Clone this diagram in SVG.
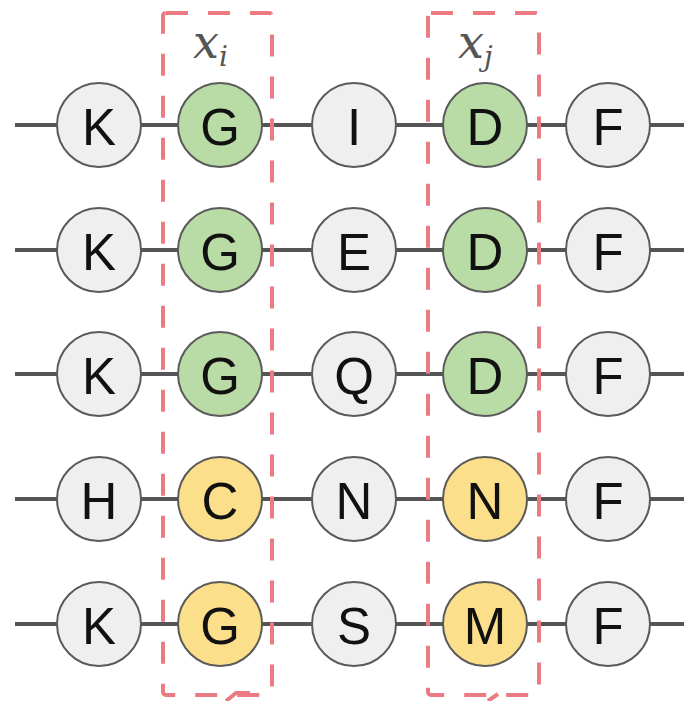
<svg xmlns="http://www.w3.org/2000/svg" width="684" height="701" viewBox="0 0 684 701">
  <style>
    .wire { stroke: #555; stroke-width: 4; fill: none; }
    .node circle { stroke: #5a5a5a; stroke-width: 2; }
    .plain circle { fill: #efefef; }
    .green circle { fill: #b9dba6; }
    .gold circle { fill: #fbdf8a; }
    .node text { font-family: "Liberation Sans", Arial, sans-serif; font-size: 51px; fill: #111; text-anchor: middle; dominant-baseline: central; }
    .box { fill: none; stroke: #ec7a82; stroke-width: 4; stroke-dasharray: 22 20; }
    .math { font-family: "DejaVu Serif", "Liberation Serif", serif; font-style: italic; fill: #555; }
  </style>
  <rect width="684" height="701" fill="#fff"/>

  <!-- chain backbones -->
  <g id="connectors">
    <line class="wire" x1="15" y1="125" x2="684" y2="125"/>
    <line class="wire" x1="15" y1="250" x2="684" y2="250"/>
    <line class="wire" x1="15" y1="374" x2="684" y2="374"/>
    <line class="wire" x1="15" y1="499" x2="684" y2="499"/>
    <line class="wire" x1="15" y1="624" x2="684" y2="624"/>
  </g>

  <!-- row 1 -->
  <g id="r1c1" class="node plain"><circle cx="99" cy="125" r="42"/><text x="99" y="127">K</text></g>
  <g id="r1c2" class="node green"><circle cx="220" cy="125" r="42"/><text x="220" y="127">G</text></g>
  <g id="r1c3" class="node plain"><circle cx="354" cy="125" r="42"/><text x="354" y="127">I</text></g>
  <g id="r1c4" class="node green"><circle cx="485" cy="125" r="42"/><text x="485" y="127">D</text></g>
  <g id="r1c5" class="node plain"><circle cx="608" cy="125" r="42"/><text x="608" y="127">F</text></g>

  <!-- row 2 -->
  <g id="r2c1" class="node plain"><circle cx="99" cy="250" r="42"/><text x="99" y="252">K</text></g>
  <g id="r2c2" class="node green"><circle cx="220" cy="250" r="42"/><text x="220" y="252">G</text></g>
  <g id="r2c3" class="node plain"><circle cx="354" cy="250" r="42"/><text x="354" y="252">E</text></g>
  <g id="r2c4" class="node green"><circle cx="485" cy="250" r="42"/><text x="485" y="252">D</text></g>
  <g id="r2c5" class="node plain"><circle cx="608" cy="250" r="42"/><text x="608" y="252">F</text></g>

  <!-- row 3 -->
  <g id="r3c1" class="node plain"><circle cx="99" cy="374" r="42"/><text x="99" y="376">K</text></g>
  <g id="r3c2" class="node green"><circle cx="220" cy="374" r="42"/><text x="220" y="376">G</text></g>
  <g id="r3c3" class="node plain"><circle cx="354" cy="374" r="42"/><text x="354" y="376">Q</text></g>
  <g id="r3c4" class="node green"><circle cx="485" cy="374" r="42"/><text x="485" y="376">D</text></g>
  <g id="r3c5" class="node plain"><circle cx="608" cy="374" r="42"/><text x="608" y="376">F</text></g>

  <!-- row 4 -->
  <g id="r4c1" class="node plain"><circle cx="99" cy="499" r="42"/><text x="99" y="501">H</text></g>
  <g id="r4c2" class="node gold"><circle cx="220" cy="499" r="42"/><text x="220" y="501">C</text></g>
  <g id="r4c3" class="node plain"><circle cx="354" cy="499" r="42"/><text x="354" y="501">N</text></g>
  <g id="r4c4" class="node gold"><circle cx="485" cy="499" r="42"/><text x="485" y="501">N</text></g>
  <g id="r4c5" class="node plain"><circle cx="608" cy="499" r="42"/><text x="608" y="501">F</text></g>

  <!-- row 5 -->
  <g id="r5c1" class="node plain"><circle cx="99" cy="624" r="42"/><text x="99" y="626">K</text></g>
  <g id="r5c2" class="node gold"><circle cx="220" cy="624" r="42"/><text x="220" y="626">G</text></g>
  <g id="r5c3" class="node plain"><circle cx="354" cy="624" r="42"/><text x="354" y="626">S</text></g>
  <g id="r5c4" class="node gold"><circle cx="485" cy="624" r="42"/><text x="485" y="626">M</text></g>
  <g id="r5c5" class="node plain"><circle cx="608" cy="624" r="42"/><text x="608" y="626">F</text></g>

  <!-- highlighted columns -->
  <g id="col-i">
    <rect class="box" x="163" y="13" width="109" height="682" rx="3"/>
    <text class="math" x="193" y="58" font-size="46">x<tspan font-size="28" dy="8">i</tspan></text>
    <path d="M226 701 L236 693 L250 693" fill="none" stroke="#ec7a82" stroke-width="4"/>
  </g>
  <g id="col-j">
    <rect class="box" x="428" y="13" width="111" height="682" rx="3"/>
    <text class="math" x="458" y="58" font-size="46">x<tspan font-size="28" dy="8">j</tspan></text>
    <path d="M488 701 L498 694" fill="none" stroke="#ec7a82" stroke-width="4"/>
  </g>
</svg>
